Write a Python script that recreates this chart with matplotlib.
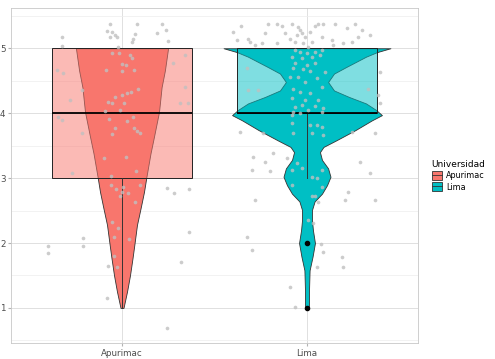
import numpy as np
import matplotlib
matplotlib.use('Agg')
import matplotlib.pyplot as plt
from matplotlib.patches import Patch
from matplotlib.lines import Line2D

grupos = ['Apurimac', 'Lima']
colores = ['#F8766D', '#00BFC4']

# box stats
q1 = [3, 4]
med = [4, 4]
q3 = [5, 5]
w_lo = [1, 3]
w_hi = [5, 5]
atipicos = [[], [2, 1]]

# violin outlines: y value and half width (x units)
vio_y_apu = [1.0, 1.25, 1.5, 1.77, 2.0, 2.28, 2.53, 2.79, 3.02, 3.38, 3.64, 4.02, 4.4, 4.66, 5.0]
vio_w_apu = [0.008, 0.027, 0.043, 0.057, 0.068, 0.081, 0.100, 0.119, 0.132, 0.154, 0.173, 0.200, 0.214, 0.232, 0.249]
vio_y_lima = [1.0, 1.28, 1.58, 1.79, 2.0, 2.2, 2.35, 2.51, 2.64, 2.76, 2.89, 3.02, 3.15, 3.28, 3.4, 3.48,
              3.58, 3.74, 3.89, 3.97, 4.05, 4.15, 4.25, 4.35, 4.48, 4.61, 4.71, 4.87, 4.94, 5.0]
vio_w_lima = [0.011, 0.011, 0.014, 0.030, 0.043, 0.032, 0.027, 0.027, 0.041, 0.081, 0.108, 0.127, 0.114, 0.081, 0.070, 0.089,
              0.157, 0.262, 0.351, 0.405, 0.373, 0.319, 0.227, 0.146, 0.114, 0.146, 0.211, 0.319, 0.378, 0.451]

# jittered observations: offset from group centre and jittered value
dx_apu = [-0.065, 0.081, 0.216, -0.081, -0.054, -0.038, -0.027, -0.065, 0.070, 0.189, 0.238, 0.059, 0.054, 0.249,
          -0.324, -0.324, -0.022, -0.054, -0.016, 0.043, 0.054, 0.0, 0.022, -0.086, 0.0, 0.065, -0.351, -0.319,
          0.341, 0.276, 0.341, -0.216, -0.281, 0.314, 0.357, 0.086, 0.049, 0.027, 0.0, -0.038, -0.076, -0.054,
          0.011, -0.011, -0.092, -0.346, -0.324, -0.070, 0.059, 0.027, 0.065, 0.081, 0.097, -0.038, -0.054, -0.216,
          -0.097, 0.022, 0.076, -0.270, -0.059, -0.059, -0.032, 0.005, 0.0, 0.032, -0.011, 0.097, 0.070, 0.243,
          0.281, 0.362, -0.054, -0.022, -0.043, 0.038, -0.211, -0.211, -0.400, -0.400, 0.362, -0.043, -0.076,
          -0.027, 0.319, -0.081, 0.243]
y_apu = [5.37, 5.38, 5.38, 5.26, 5.25, 5.20, 5.18, 5.17, 5.22, 5.23, 5.28, 5.15, 5.09, 5.11,
         5.17, 5.03, 5.02, 4.92, 4.92, 4.89, 4.85, 4.75, 4.74, 4.66, 4.65, 4.66, 4.66, 4.62,
         4.89, 4.77, 4.40, 4.35, 4.20, 4.15, 4.15, 4.37, 4.32, 4.31, 4.28, 4.25, 4.17, 4.15,
         4.15, 4.05, 4.03, 3.94, 3.89, 3.91, 3.94, 3.88, 3.77, 3.72, 3.69, 3.77, 3.68, 3.69,
         3.31, 3.32, 3.11, 3.08, 3.03, 2.89, 2.83, 2.86, 2.78, 2.77, 2.72, 2.89, 2.63, 2.85,
         2.77, 2.83, 2.32, 2.23, 2.09, 2.06, 2.08, 1.95, 1.95, 1.85, 2.17, 1.80, 1.65,
         1.63, 1.71, 1.15, 0.69]

dx_lima = [-0.357, -0.211, -0.162, -0.135, -0.081, -0.049, -0.038, -0.027, -0.054, -0.011, 0.016, 0.043, 0.059,
           0.086, 0.151, 0.216, 0.259, 0.297, 0.341, -0.400, -0.378, -0.319, -0.308, -0.243, -0.227, -0.119,
           -0.092, -0.065, -0.022, 0.027, 0.081, 0.135, 0.195, 0.243, 0.276, -0.281, -0.162, 0.005, 0.141,
           -0.065, -0.038, 0.0, 0.043, 0.081, -0.081, -0.027, 0.027, 0.070, -0.065, 0.0, 0.043, -0.076, -0.022,
           0.016, 0.097, -0.092, -0.049, 0.054, -0.011, -0.076, 0.081, -0.038, 0.016, -0.081, -0.011, 0.059,
           -0.065, -0.027, 0.043, 0.086, -0.324, -0.265, -0.319, 0.395, 0.384, 0.330, 0.395, -0.076, -0.038,
           0.005, 0.081, -0.081, -0.081, 0.016, 0.054, 0.081, -0.076, 0.027, 0.086, -0.362, -0.238, 0.243,
           0.368, -0.292, -0.184, -0.227, -0.108, -0.297, -0.200, -0.054, -0.081, -0.027, 0.081, 0.286, 0.341,
           0.027, 0.054, -0.081, 0.081, 0.027, 0.043, 0.222, 0.205, 0.368, -0.281, 0.059, 0.005, 0.032, -0.324,
           -0.297, 0.076, 0.086, 0.189, 0.054, 0.195, -0.092, -0.065]
y_lima = [5.34, 5.37, 5.38, 5.35, 5.37, 5.32, 5.28, 5.23, 5.20, 5.18, 5.25, 5.35, 5.38,
          5.38, 5.38, 5.31, 5.37, 5.28, 5.20, 5.25, 5.12, 5.15, 5.09, 5.08, 5.23, 5.23,
          5.15, 5.09, 5.08, 5.09, 5.17, 5.12, 5.08, 5.09, 5.17, 5.05, 5.08, 5.02, 5.05,
          4.97, 4.94, 4.92, 4.94, 4.97, 4.86, 4.85, 4.86, 4.89, 4.77, 4.74, 4.78, 4.69, 4.68,
          4.65, 4.63, 4.55, 4.55, 4.54, 4.48, 4.38, 4.40, 4.32, 4.31, 4.23, 4.20, 4.20,
          4.09, 4.12, 4.11, 4.08, 4.69, 4.35, 4.35, 4.63, 4.28, 4.38, 4.15, 4.02, 4.00,
          4.05, 4.02, 3.97, 3.85, 3.82, 3.82, 3.78, 3.69, 3.69, 3.66, 3.71, 3.69, 3.71,
          3.69, 3.32, 3.38, 3.25, 3.31, 3.12, 3.11, 3.23, 3.12, 3.15, 3.12, 3.25, 3.08,
          3.02, 3.00, 2.89, 2.86, 2.72, 2.72, 2.78, 2.66, 2.66, 2.66, 2.63, 2.35, 2.31, 2.09,
          1.89, 1.98, 1.86, 1.78, 1.63, 1.63, 1.32, 1.02]

fig = plt.figure(figsize=(4.95, 3.59), dpi=100)
ax = fig.add_axes([11/495, 1-343/359, 407/495, 335/359])

pos = [1, 2]
vio_y = [vio_y_apu, vio_y_lima]
vio_w = [vio_w_apu, vio_w_lima]
for i in range(2):
    y = np.array(vio_y[i]); w = np.array(vio_w[i])
    ax.fill_betweenx(y, pos[i]-w, pos[i]+w, facecolor=colores[i], edgecolor='#333333', lw=0.6, zorder=2)

stats = []
for i in range(2):
    stats.append(dict(med=med[i], q1=q1[i], q3=q3[i], whislo=w_lo[i], whishi=w_hi[i], fliers=atipicos[i]))
bp = ax.bxp(stats, positions=pos, widths=0.757, patch_artist=True, showcaps=False,
            medianprops=dict(color='black', lw=1.3),
            whiskerprops=dict(color='#333333', lw=0.7),
            flierprops=dict(marker='o', markerfacecolor='black', markeredgecolor='black', markersize=3),
            manage_ticks=False, zorder=3)
for i, b in enumerate(bp['boxes']):
    b.set_facecolor(matplotlib.colors.to_rgba(colores[i], 0.5))
    b.set_edgecolor('#222222')
    b.set_linewidth(0.7)

ax.scatter(1 + np.array(dx_apu), y_apu, s=7, color='#C0C0C0', alpha=0.8, lw=0, zorder=4)
ax.scatter(2 + np.array(dx_lima), y_lima, s=7, color='#C0C0C0', alpha=0.8, lw=0, zorder=4)

ax.set_xlim(0.4, 2.6)
ax.set_ylim(0.46, 5.62)
ax.set_xticks(pos)
ax.set_xticklabels(grupos)
ax.set_yticks([1, 2, 3, 4, 5])
ax.set_yticks([0.5, 1.5, 2.5, 3.5, 4.5, 5.5], minor=True)
ax.grid(which='major', color='#E0E0E0', lw=0.7, zorder=0)
ax.grid(which='minor', axis='y', color='#EDEDED', lw=0.5, zorder=0)
ax.set_axisbelow(True)
for s in ax.spines.values():
    s.set_color('#C8C8C8')
    s.set_linewidth(0.6)
ax.tick_params(which='major', length=2, color='#B3B3B3', labelsize=6.3, labelcolor='#4D4D4D', pad=2)
ax.tick_params(which='minor', length=0)

handles = [(Patch(facecolor=c, edgecolor='#333333', lw=0.6), Line2D([], [], color='#333333', lw=0.6)) for c in colores]
fig.legend(handles, grupos, title='Universidad', loc='center left', bbox_to_anchor=(0.872, 0.51),
           frameon=False, fontsize=5.8, title_fontsize=6.5, handlelength=1.3, handleheight=1.3,
           handletextpad=0.5, labelspacing=0.25, borderpad=0, borderaxespad=0, alignment='left')

fig.savefig('out.png', dpi=100)
